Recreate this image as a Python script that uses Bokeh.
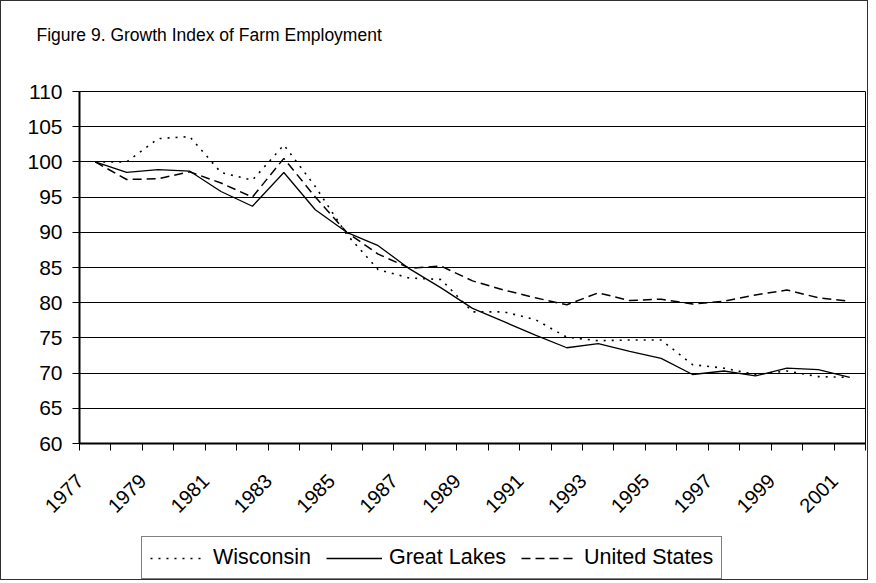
import math
from bokeh.plotting import figure
from bokeh.layouts import column, Spacer
from bokeh.models import Range1d, FixedTicker, Legend, LegendItem, ColumnDataSource
from bokeh.embed import file_html
from bokeh.resources import INLINE

years = list(range(1977, 2002))
wisconsin = [100.0, 100.0, 103.3, 103.6, 98.5, 97.4, 102.4, 96.5, 89.7, 84.7, 83.5, 83.3,
             78.7, 78.7, 77.6, 75.1, 74.6, 74.7, 74.7, 71.2, 70.7, 69.8, 70.3, 69.5, 69.4]
great_lakes = [100.0, 98.5, 98.9, 98.7, 95.8, 93.7, 98.5, 93.2, 90.0, 88.1, 84.8, 82.1,
               79.2, 77.3, 75.4, 73.6, 74.2, 73.1, 72.1, 69.8, 70.3, 69.6, 70.7, 70.5, 69.4]
united_states = [100.0, 97.5, 97.6, 98.6, 97.0, 95.0, 100.5, 95.0, 90.0, 86.9, 84.9, 85.2,
                 83.1, 81.8, 80.7, 79.7, 81.4, 80.3, 80.5, 79.8, 80.2, 81.1, 81.8, 80.7, 80.2]
y_ticks = list(range(60, 111, 5))
x_label_years = list(range(1977, 2002, 2))
series_names = ["Wisconsin", "Great Lakes", "United States"]
title_text = "Figure 9.  Growth Index of Farm Employment"

FONT = "Liberation Sans"
W = 866
LABEL_SHIFT = 0.49  # rotated labels sit left of the category centre

src = ColumnDataSource(dict(year=years, wi=wisconsin, gl=great_lakes, us=united_states))
styles = [dict(line_width=1.6, line_dash="2 6"),
          dict(line_width=1.3, line_dash="solid"),
          dict(line_width=1.5, line_dash="9 5")]
cols = ["wi", "gl", "us"]

def strip(height, **kw):
    f = figure(width=W, height=height, output_backend="svg", toolbar_location=None,
               x_axis_location=None, y_axis_location=None,
               min_border=0, min_border_left=0, min_border_right=0,
               min_border_top=0, min_border_bottom=0,
               x_range=Range1d(5000, 5001), y_range=Range1d(0, 1), **kw)
    f.outline_line_color = None
    f.grid.grid_line_color = None
    return f

# ---------- title strip ----------
top_gap = Spacer(width=W, height=23)
tf = strip(37, title=title_text)
tf.title.text_font = FONT
tf.title.text_font_size = "17.5px"
tf.title.text_font_style = "normal"
tf.title.text_color = "black"
tf.title.align = "left"
tf.title.vertical_align = "top"
tf.title.offset = -43
tf.title.standoff = 0

# ---------- main chart ----------
p = figure(width=W, height=473, output_backend="svg", toolbar_location=None,
           x_range=Range1d(years[0] - 0.5, years[-1] + 0.5),
           y_range=Range1d(60, 110),
           min_border_left=78, min_border_right=2, min_border_top=30, min_border_bottom=91)
p.background_fill_color = "white"
p.border_fill_color = "white"
p.outline_line_color = "black"
p.outline_line_width = 1

p.xgrid.grid_line_color = None
p.ygrid.grid_line_color = "black"
p.ygrid.grid_line_width = 1
p.ygrid.ticker = FixedTicker(ticks=y_ticks)

p.yaxis.ticker = FixedTicker(ticks=y_ticks)
p.yaxis.axis_line_width = 2
p.yaxis.axis_line_color = "black"
p.yaxis.major_tick_out = 7
p.yaxis.major_tick_in = 0
p.yaxis.minor_tick_line_color = None
p.yaxis.major_label_text_font = FONT
p.yaxis.major_label_text_font_size = "21px"
p.yaxis.major_label_text_color = "black"
p.yaxis.major_label_standoff = 10

bounds = [y - 0.5 for y in years] + [years[-1] + 0.5]
label_pos = [round(y - LABEL_SHIFT, 2) for y in x_label_years]
p.xaxis.ticker = FixedTicker(ticks=label_pos, minor_ticks=bounds)
p.xaxis.major_label_overrides = {pos: str(y) for pos, y in zip(label_pos, x_label_years)}
p.xaxis.axis_line_width = 2
p.xaxis.axis_line_color = "black"
p.xaxis.major_tick_out = 0
p.xaxis.major_tick_in = 0
p.xaxis.minor_tick_out = 7
p.xaxis.minor_tick_in = 0
p.xaxis.minor_tick_line_color = "black"
p.xaxis.major_label_orientation = math.pi / 4
p.xaxis.major_label_text_font = FONT
p.xaxis.major_label_text_font_size = "20px"
p.xaxis.major_label_text_color = "black"
p.xaxis.major_label_standoff = 27

for c, st in zip(cols, styles):
    p.line("year", c, source=src, line_color="black", **st)

# ---------- legend strip ----------
lf = strip(45)
items = []
for name, c, st in zip(series_names, cols, styles):
    r = lf.line("year", c, source=src, line_color="black", **st)
    items.append(LegendItem(label=name, renderers=[r]))
legend = Legend(items=items, orientation="horizontal", location=(62, 0))
legend.label_text_font = FONT
legend.label_text_font_size = "21.5px"
legend.label_text_color = "black"
legend.glyph_width = 56
legend.glyph_height = 20
legend.label_height = 21
legend.label_standoff = 7
legend.spacing = 15
legend.padding = 8
legend.margin = 0
legend.border_line_color = "black"
legend.border_line_width = 1
legend.background_fill_color = "white"
legend.background_fill_alpha = 1
lf.add_layout(legend, "center")

layout = column(top_gap, tf, p, lf, spacing=0)
layout.styles = {"border": "1px solid #303030"}

open("out.html", "w").write(file_html(layout, INLINE))
